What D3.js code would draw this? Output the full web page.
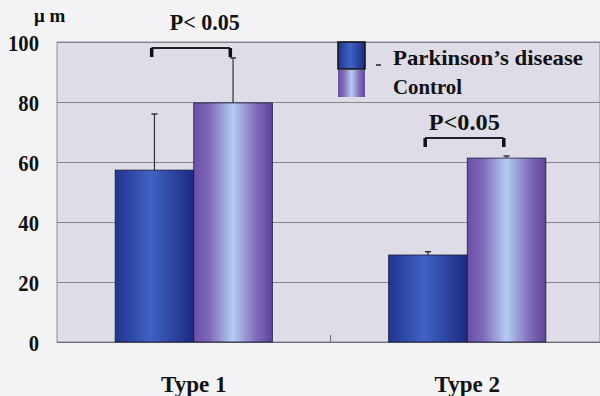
<!DOCTYPE html>
<html><head><meta charset="utf-8">
<script src="https://cdn.jsdelivr.net/npm/d3@7"></script>
<style>body{margin:0;background:#f3f3f5}svg{display:block}
.tms{font-family:"Liberation Serif","Times New Roman",serif;font-weight:bold}</style>
</head><body><svg id="c" width="600" height="396"></svg>
<script>
const categories = ["Type 1", "Type 2"];
const series = ["Parkinson\u2019s disease", "Control"];
const pdValues = [57.3, 29.0];
const pdErrors = [76.0, 30.1];
const ctlValues = [79.7, 61.3];
const ctlErrors = [94.7, 62.0];
const yTicks = [0, 20, 40, 60, 80, 100];
const pLabels = ["P< 0.05", "P<0.05"];

(function () {
const svg = d3.select("#c");
const mL = 57, mT = 42, mB = 342, mR = 604;
const y = d3.scaleLinear().domain([0, 100]).range([mB, mT]);
const x0 = d3.scaleBand().domain(categories).range([mL, mR]).padding(0);
const x1 = d3.scaleBand().domain(series).range([0, x0.bandwidth()]).paddingInner(0).paddingOuter(0.74);

const defs = svg.append("defs");
function grad(id, stops) {
  const g = defs.append("linearGradient").attr("id", id).attr("x1", "0%").attr("x2", "100%").attr("y1", "0%").attr("y2", "0%");
  stops.forEach(s => g.append("stop").attr("offset", s[0]).attr("stop-color", s[1]));
}
grad("gPD", [["0%", "#22348f"], ["45%", "#3f63c4"], ["100%", "#1c2a80"]]);
grad("gCT", [["0%", "#6a4fa6"], ["20%", "#7e6ab8"], ["50%", "#b4cdf2"], ["80%", "#7e6ab8"], ["100%", "#5e4598"]]);
const fills = {[series[0]]: "url(#gPD)", [series[1]]: "url(#gCT)"};

svg.append("rect").attr("x", mL).attr("y", mT).attr("width", 600 - mL).attr("height", mB - mT)
  .attr("fill", "#dddce7").attr("stroke", "#8c8c96").attr("stroke-width", 1);

const grid = svg.append("g").attr("transform", `translate(${mL},0)`)
  .call(d3.axisLeft(y).tickValues(yTicks).tickSize(-(600 - mL)).tickFormat(""));
grid.select(".domain").remove();
grid.selectAll("line").attr("stroke", "#85858f").attr("stroke-width", 1);

const ya = svg.append("g").attr("transform", `translate(${mL},0)`)
  .call(d3.axisLeft(y).tickValues(yTicks).tickSize(0).tickPadding(18));
ya.attr("font-family", null).attr("font-size", null);
ya.select(".domain").remove();
ya.selectAll("text").attr("class", "tms").style("font-size", "24px").attr("fill", "#111").attr("dy", "0.36em")
  .attr("transform", "scale(0.86,1)").attr("x", -18 / 0.86);

svg.append("text").attr("class", "tms").attr("x", 34).attr("y", 22).style("font-size", "19px")
  .attr("fill", "#111").text("\u03bc m");

const xa = svg.append("g").attr("transform", `translate(0,${mB})`)
  .call(d3.axisBottom(x0).tickSize(0).tickPadding(34));
xa.attr("font-family", null).attr("font-size", null);
xa.select(".domain").attr("stroke", "#6a6a74");
xa.selectAll("text").attr("class", "tms").style("font-size", "23px").attr("fill", "#111");
svg.append("line").attr("x1", x0(categories[1])).attr("x2", x0(categories[1]))
  .attr("y1", mB).attr("y2", mB - 7).attr("stroke", "#6a6a74");

const rows = categories.map((c, i) => ({c, vals: [
  {s: series[0], v: pdValues[i], e: pdErrors[i]},
  {s: series[1], v: ctlValues[i], e: ctlErrors[i]}]}));
const grp = svg.selectAll(".grp").data(rows).join("g").attr("class", "grp").attr("transform", d => `translate(${x0(d.c)},0)`);
grp.selectAll("line.err").data(d => d.vals).join("line").attr("class", "err")
  .attr("x1", d => x1(d.s) + x1.bandwidth() / 2).attr("x2", d => x1(d.s) + x1.bandwidth() / 2)
  .attr("y1", d => y(d.v)).attr("y2", d => y(d.e)).attr("stroke", "#333").attr("stroke-width", 1.2);
grp.selectAll("line.cap").data(d => d.vals).join("line").attr("class", "cap")
  .attr("x1", d => x1(d.s) + x1.bandwidth() / 2 - 3).attr("x2", d => x1(d.s) + x1.bandwidth() / 2 + 3)
  .attr("y1", d => y(d.e)).attr("y2", d => y(d.e)).attr("stroke", "#333").attr("stroke-width", 1.5);
grp.selectAll("rect").data(d => d.vals).join("rect")
  .attr("x", d => x1(d.s)).attr("width", x1.bandwidth())
  .attr("y", d => y(d.v)).attr("height", d => y(0) - y(d.v))
  .attr("fill", d => fills[d.s]).attr("stroke", "#1a1a3a").attr("stroke-width", 0.8);

const brY = [48, 138];
const txtDx = [14, 0];
const txtY = [30, 130];
categories.forEach((c, i) => {
  const a = x0(c) + x1(series[0]) + x1.bandwidth() / 2 - 3;
  const b = x0(c) + x1(series[1]) + x1.bandwidth() / 2 - 3;
  const g = svg.append("g");
  g.append("line").attr("x1", a).attr("x2", b).attr("y1", brY[i]).attr("y2", brY[i]).attr("stroke", "#222").attr("stroke-width", 1.8);
  [a, b].forEach(xx => g.append("rect").attr("x", xx - 1.5).attr("y", brY[i]).attr("width", 3.5).attr("height", 9).attr("fill", "#111"));
  svg.append("text").attr("class", "tms")
    .attr("x", (a + b) / 2 + txtDx[i]).attr("y", txtY[i]).attr("text-anchor", "middle")
    .style("font-size", "24px").attr("fill", "#111")
    .attr("textLength", i === 0 ? 70 : 71).attr("lengthAdjust", "spacingAndGlyphs").text(pLabels[i]);
});

const lg = svg.append("g");
series.forEach((s, i) => {
  lg.append("rect").attr("x", 338).attr("y", 42 + i * 28).attr("width", 27).attr("height", 27)
    .attr("fill", fills[s]).attr("stroke", i === 0 ? "#111" : "none").attr("stroke-width", 1.5);
  lg.append("text").attr("class", "tms").attr("x", 393).attr("y", 65 + i * 29)
    .style("font-size", "21px").attr("fill", "#111")
    .attr("textLength", i === 0 ? 190 : 69).attr("lengthAdjust", "spacingAndGlyphs").text(s);
});
lg.append("line").attr("x1", 376).attr("x2", 381).attr("y1", 65).attr("y2", 65).attr("stroke", "#222").attr("stroke-width", 1.5);
})();
</script></body></html>
